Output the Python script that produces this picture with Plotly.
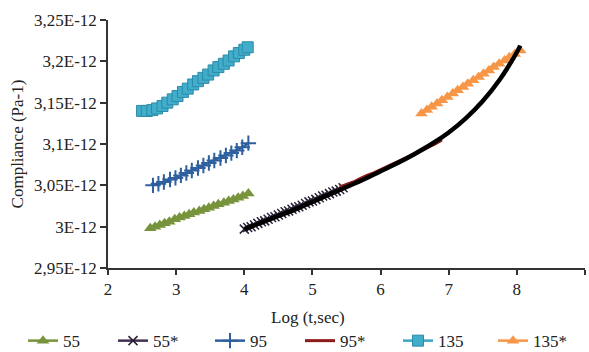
import plotly.graph_objects as go

# ---- data (compliance in units of 1E-12 Pa-1) ----
x55 = [2.62, 2.69, 2.76, 2.83, 2.90, 2.98, 3.05, 3.12, 3.19, 3.26, 3.34, 3.41, 3.48, 3.55, 3.62, 3.70, 3.77, 3.84, 3.91, 3.98, 4.06]
y55 = [2.998, 3.000, 3.002, 3.004, 3.006, 3.009, 3.011, 3.013, 3.015, 3.017, 3.019, 3.021, 3.023, 3.025, 3.027, 3.029, 3.031, 3.033, 3.035, 3.037, 3.040]

x55s = [4.00, 4.05, 4.10, 4.15, 4.20, 4.25, 4.30, 4.35, 4.40, 4.45, 4.50, 4.55, 4.60, 4.65, 4.70,
        4.75, 4.80, 4.85, 4.90, 4.95, 5.00, 5.05, 5.10, 5.15, 5.20, 5.25, 5.30, 5.35, 5.40, 5.45]
y55s = [2.997, 2.999, 3.000, 3.002, 3.004, 3.006, 3.007, 3.009, 3.011, 3.012, 3.014, 3.016, 3.018, 3.019, 3.021,
        3.023, 3.024, 3.026, 3.028, 3.030, 3.031, 3.033, 3.035, 3.037, 3.038, 3.040, 3.042, 3.043, 3.045, 3.047]

x95 = [2.66, 2.74, 2.82, 2.91, 2.99, 3.07, 3.15, 3.23, 3.32, 3.40, 3.48, 3.56, 3.65, 3.73, 3.81, 3.89, 3.97, 4.06]
y95 = [3.050, 3.052, 3.054, 3.057, 3.059, 3.062, 3.065, 3.068, 3.071, 3.074, 3.077, 3.080, 3.083, 3.086, 3.089, 3.092, 3.096, 3.101]

x95s = [5.40, 5.50, 5.60, 5.70, 5.80, 5.90, 6.00, 6.10, 6.20, 6.30, 6.40, 6.50, 6.60, 6.70, 6.80, 6.90]
y95s = [3.048, 3.051, 3.054, 3.058, 3.062, 3.065, 3.069, 3.073, 3.077, 3.080, 3.084, 3.088, 3.092, 3.096, 3.100, 3.105]

x135 = [2.50, 2.57, 2.65, 2.72, 2.80, 2.87, 2.95, 3.02, 3.10, 3.17, 3.25, 3.32, 3.40, 3.47, 3.55, 3.62, 3.70, 3.77, 3.85, 3.92, 4.00, 4.05]
y135 = [3.140, 3.140, 3.141, 3.143, 3.146, 3.150, 3.154, 3.158, 3.163, 3.167, 3.172, 3.176, 3.180, 3.184, 3.189, 3.193, 3.197, 3.201, 3.206, 3.210, 3.214, 3.217]

x135s = [6.60, 6.68, 6.75, 6.83, 6.90, 6.98, 7.06, 7.13, 7.21, 7.28, 7.36, 7.44, 7.51, 7.59, 7.66, 7.74, 7.82, 7.89, 7.97, 8.05]
y135s = [3.137, 3.141, 3.145, 3.149, 3.153, 3.157, 3.161, 3.165, 3.169, 3.173, 3.177, 3.181, 3.185, 3.189, 3.193, 3.197, 3.201, 3.205, 3.209, 3.213]

# master (trend) curve
xmaster = [4.00, 4.25, 4.50, 4.75, 5.00, 5.25, 5.50, 5.75, 6.00, 6.25, 6.50, 6.75, 7.00, 7.25, 7.50, 7.75, 8.00, 8.05]
ymaster = [2.997, 3.005, 3.013, 3.021, 3.030, 3.039, 3.048, 3.057, 3.067, 3.077, 3.088, 3.100, 3.114, 3.131, 3.152, 3.178, 3.211, 3.219]

ytickvals = [2.95, 3.00, 3.05, 3.10, 3.15, 3.20, 3.25]
yticktext = ["2,95E-12", "3E-12", "3,05E-12", "3,1E-12", "3,15E-12", "3,2E-12", "3,25E-12"]
xtickvals = [2, 3, 4, 5, 6, 7, 8, 9]

FONT = "Liberation Serif"
TXT = "#222"

fig = go.Figure()
fig.add_trace(go.Scatter(x=x55, y=y55, name="55", mode="lines+markers", legend="legend",
                         line=dict(color="#77933C", width=2.5),
                         marker=dict(symbol="triangle-up", size=11, color="#77933C")))
fig.add_trace(go.Scatter(x=x55s, y=y55s, name="55*", mode="lines+markers", legend="legend2",
                         line=dict(color="#403152", width=2.5),
                         marker=dict(symbol="x-thin", size=9, color="#403152",
                                     line=dict(color="#2a2035", width=1.5))))
fig.add_trace(go.Scatter(x=x95, y=y95, name="95", mode="lines+markers", legend="legend3",
                         line=dict(color="#2E5F9E", width=2.5),
                         marker=dict(symbol="cross-thin", size=11, color="#2E5F9E",
                                     line=dict(color="#2E5F9E", width=2))))
fig.add_trace(go.Scatter(x=x95s, y=y95s, name="95*", mode="lines", legend="legend4",
                         line=dict(color="#8E1B1B", width=3)))
fig.add_trace(go.Scatter(x=x135, y=y135, name="135", mode="lines+markers", legend="legend5",
                         line=dict(color="#3AA6C4", width=2.5),
                         marker=dict(symbol="square", size=11, color="#41ADCA",
                                     line=dict(color="#2B8BA8", width=1))))
fig.add_trace(go.Scatter(x=x135s, y=y135s, name="135*", mode="lines+markers", legend="legend6",
                         line=dict(color="#F79646", width=2.5),
                         marker=dict(symbol="triangle-up", size=11, color="#F79646")))
fig.add_trace(go.Scatter(x=xmaster, y=ymaster, mode="lines", showlegend=False,
                         line=dict(color="black", width=4.5, shape="spline", smoothing=1.0),
                         hoverinfo="skip"))

legend_px = [23, 113, 210, 300, 398, 493]


def make_legend(px):
    return dict(orientation="h", xref="container", yref="container",
                x=px / 589, xanchor="left", y=0.031, yanchor="middle",
                itemwidth=30, bgcolor="rgba(0,0,0,0)",
                font=dict(family=FONT, size=17, color=TXT))


fig.update_layout(
    width=589, height=352,
    margin=dict(l=108, r=4, t=20, b=84, autoexpand=False),
    paper_bgcolor="white", plot_bgcolor="white",
    font=dict(family=FONT, size=17, color=TXT),
    showlegend=True,
    legend=make_legend(legend_px[0]),
    legend2=make_legend(legend_px[1]),
    legend3=make_legend(legend_px[2]),
    legend4=make_legend(legend_px[3]),
    legend5=make_legend(legend_px[4]),
    legend6=make_legend(legend_px[5]),
    annotations=[dict(text="Log (t,sec)", xref="paper", yref="paper",
                      x=0.419, y=-0.2, xanchor="center", yanchor="middle",
                      showarrow=False, font=dict(family=FONT, size=17, color=TXT))],
)
fig.update_xaxes(range=[2, 9], tickvals=xtickvals, showgrid=False, zeroline=False,
                 showline=True, linecolor="#333", linewidth=1.5,
                 ticks="outside", ticklen=5, tickcolor="#333", tickwidth=1.5,
                 tickfont=dict(family=FONT, size=17, color=TXT))
fig.update_yaxes(range=[2.95, 3.25], tickvals=ytickvals, ticktext=yticktext,
                 showgrid=False, zeroline=False,
                 showline=True, linecolor="#333", linewidth=1.5,
                 ticks="outside", ticklen=6, tickcolor="#333", tickwidth=1.5,
                 tickfont=dict(family=FONT, size=17, color=TXT),
                 title=dict(text="Compliance (Pa-1)", standoff=6,
                            font=dict(family=FONT, size=17, color=TXT)))

fig.write_html("out.html", config={"displayModeBar": False},
               post_script="document.body.style.margin='0';")
